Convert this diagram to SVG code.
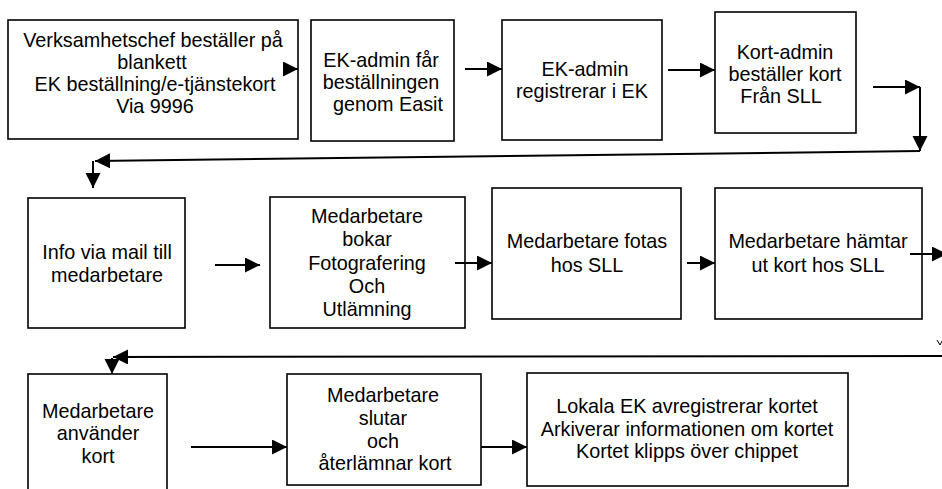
<svg xmlns="http://www.w3.org/2000/svg" width="942" height="489" viewBox="0 0 942 489">
<style>
.box{fill:#fff;stroke:#000;stroke-width:1.6}
.t{font-family:"Liberation Sans",Arial,sans-serif;font-size:19.8px;fill:#000;text-anchor:middle}
.c{fill:none;stroke:#000;stroke-width:2}
</style>
<defs>
<marker id="ah" markerUnits="userSpaceOnUse" markerWidth="16" markerHeight="16" refX="15" refY="7.5" orient="auto">
<path d="M0,0 L15,7.5 L0,15 z" fill="#000"/>
</marker>
</defs>
<rect width="942" height="489" fill="#fff"/>

<g id="n1"><rect class="box" x="8" y="20" width="290" height="119"/>
<text class="t"><tspan x="153" y="47">Verksamhetschef beställer på</tspan><tspan x="152" y="69">blankett</tspan><tspan x="155" y="91">EK beställning/e-tjänstekort</tspan><tspan x="155" y="113">Via 9996</tspan></text></g>

<g id="n2"><rect class="box" x="311" y="20" width="143" height="121"/>
<text class="t"><tspan x="381" y="67">EK-admin får</tspan><tspan x="381" y="89">beställningen</tspan><tspan x="388" y="111">genom Easit</tspan></text></g>

<g id="n3"><rect class="box" x="502" y="20" width="160" height="120"/>
<text class="t"><tspan x="585" y="76">EK-admin</tspan><tspan x="582" y="98">registrerar i EK</tspan></text></g>

<g id="n4"><rect class="box" x="715" y="12" width="141" height="121"/>
<text class="t"><tspan x="785" y="59">Kort-admin</tspan><tspan x="785" y="81">beställer kort</tspan><tspan x="781" y="103">Från SLL</tspan></text></g>

<g id="n5"><rect class="box" x="28" y="198" width="157" height="130"/>
<text class="t"><tspan x="107" y="259">Info via mail till</tspan><tspan x="107" y="282">medarbetare</tspan></text></g>

<g id="n6"><rect class="box" x="270" y="197" width="195" height="131"/>
<text class="t"><tspan x="367" y="223">Medarbetare</tspan><tspan x="367" y="246">bokar</tspan><tspan x="367" y="270">Fotografering</tspan><tspan x="367" y="293">Och</tspan><tspan x="367" y="316">Utlämning</tspan></text></g>

<g id="n7"><rect class="box" x="492" y="188" width="189" height="131"/>
<text class="t"><tspan x="587" y="248">Medarbetare fotas</tspan><tspan x="587" y="272">hos SLL</tspan></text></g>

<g id="n8"><rect class="box" x="715" y="188" width="207" height="131"/>
<text class="t"><tspan x="818" y="248">Medarbetare hämtar</tspan><tspan x="818" y="272">ut kort hos SLL</tspan></text></g>

<g id="n9"><rect class="box" x="28" y="374" width="139" height="125"/>
<text class="t"><tspan x="98" y="418">Medarbetare</tspan><tspan x="98" y="440">använder</tspan><tspan x="98" y="463">kort</tspan></text></g>

<g id="n10"><rect class="box" x="287" y="374" width="194" height="111"/>
<text class="t"><tspan x="383" y="402">Medarbetare</tspan><tspan x="383" y="425">slutar</tspan><tspan x="383" y="448">och</tspan><tspan x="385" y="470">återlämnar kort</tspan></text></g>

<g id="n11"><rect class="box" x="527" y="373" width="321" height="113"/>
<text class="t"><tspan x="687" y="413">Lokala EK avregistrerar kortet</tspan><tspan x="687" y="436">Arkiverar informationen om kortet</tspan><tspan x="687" y="458">Kortet klipps över chippet</tspan></text></g>

<g id="connectors">
<path class="c" d="M283,69 L298,69" marker-end="url(#ah)"/>
<path class="c" d="M465,69 L502,69" marker-end="url(#ah)"/>
<path class="c" d="M668,70 L715,70" marker-end="url(#ah)"/>
<path class="c" d="M873,87 L920,87" marker-end="url(#ah)"/>
<path class="c" d="M920,87 L920,151" marker-end="url(#ah)"/>
<path class="c" d="M920,151 L95,161" marker-end="url(#ah)"/>
<path class="c" d="M93,161 L93,188" marker-end="url(#ah)"/>
<path class="c" d="M215,265 L260,265" marker-end="url(#ah)"/>
<path class="c" d="M455,263 L492,263" marker-end="url(#ah)"/>
<path class="c" d="M687,263 L715,263" marker-end="url(#ah)"/>
<path class="c" d="M910,254 L947,254" marker-end="url(#ah)"/>
<path d="M937,340 L940,345 L942,341" fill="none" stroke="#000" stroke-width="1"/>
<path class="c" d="M942,356 L113,357" marker-end="url(#ah)"/>
<path class="c" d="M112,358 L112,374" marker-end="url(#ah)"/>
<path class="c" d="M191,447 L287,447" marker-end="url(#ah)"/>
<path class="c" d="M481,447 L527,447" marker-end="url(#ah)"/>
</g>
</svg>
